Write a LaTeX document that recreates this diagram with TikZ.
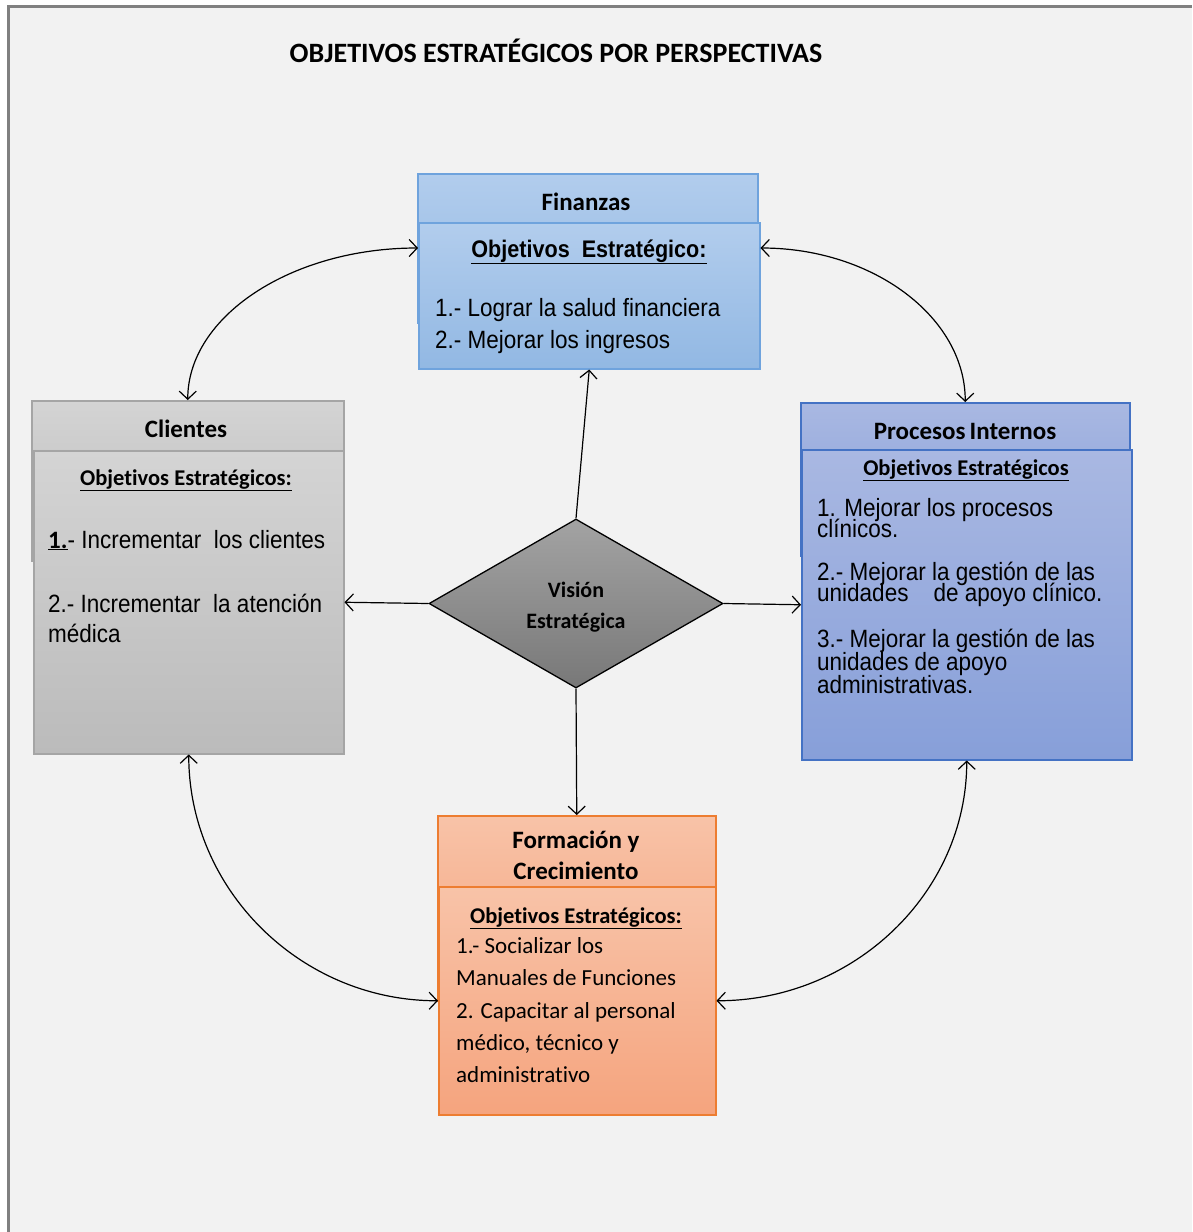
\documentclass[tikz,border=0pt]{standalone}
\usepackage{fontspec}
\setmainfont[Ligatures=CommonOff]{Carlito}
\newfontfamily\nar[FakeStretch=0.9]{Liberation Sans}
\usetikzlibrary{arrows.meta,shapes.geometric,calc}
\definecolor{bgc}{HTML}{F2F2F2}
\definecolor{framec}{HTML}{808080}
\definecolor{finT}{HTML}{B2CDED}
\definecolor{finB}{HTML}{92B8E3}
\definecolor{finD}{HTML}{6FA3DD}
\definecolor{cliT}{HTML}{D4D4D4}
\definecolor{cliB}{HTML}{BBBBBB}
\definecolor{cliD}{HTML}{A5A5A5}
\definecolor{proT}{HTML}{A9B8E2}
\definecolor{proB}{HTML}{879FD9}
\definecolor{proD}{HTML}{4472C4}
\definecolor{forT}{HTML}{F8C3A8}
\definecolor{forB}{HTML}{F5A47E}
\definecolor{forD}{HTML}{ED7D31}
\definecolor{diaT}{HTML}{A3A3A3}
\definecolor{diaB}{HTML}{787878}
\begin{document}
\begin{tikzpicture}[x=1pt,y=-1pt,
  panel/.style={anchor=north west, inner sep=0pt, line width=1.5pt},
  finpanel/.style={panel, draw=finD, top color=finT, bottom color=finB},
  clipanel/.style={panel, draw=cliD, top color=cliT, bottom color=cliB},
  propanel/.style={panel, draw=proD, top color=proT, bottom color=proB},
  forpanel/.style={panel, draw=forD, top color=forT, bottom color=forB},
  head/.style={anchor=base, inner sep=0pt, font=\fontsize{25}{30}\selectfont\bfseries},
  subhead/.style={anchor=base, inner sep=0pt, font=\fontsize{22.5}{27}\selectfont\bfseries},
  nline/.style={anchor=base west, inner sep=0pt, font=\nar\fontsize{25}{30}\selectfont},
  cline/.style={anchor=base west, inner sep=0pt, font=\fontsize{23}{27}\selectfont},
  arr/.style={-{Straight Barb[length=8pt,width=17pt]}, line width=1.2pt},
  darr/.style={{Straight Barb[length=8pt,width=17pt]}-{Straight Barb[length=8pt,width=17pt]}, line width=1.2pt}
]
\useasboundingbox (0,0) rectangle (1192,1232);
\fill[white] (0,0) rectangle (1192,1232);
\fill[bgc] (8,6) rectangle (1192,1232);
\draw[framec, line width=3pt] (8,1232) -- (8,6) -- (1192,6);

% title
\node[anchor=base, inner sep=0pt, font=\fontsize{28}{33}\selectfont\bfseries] (title) at (556,62) {OBJETIVOS ESTRATÉGICOS POR PERSPECTIVAS};

% Finanzas
\node[finpanel, minimum width=340pt, minimum height=149pt] (finH) at (417,173) {};
\node[finpanel, minimum width=341pt, minimum height=146pt] (finBx) at (418,222) {};
\node[head] (finT1) at (586,210) {Finanzas};
\node[anchor=base, inner sep=0pt, font=\nar\fontsize{24}{28}\selectfont\bfseries] (finT2) at (589,257) {\underline{Objetivos\ \ Estratégico:}};
\node[nline] (finL1) at (435,316) {1.- Lograr la salud financiera};
\node[nline] (finL2) at (435,348) {2.- Mejorar los ingresos};

% Clientes
\node[clipanel, minimum width=312pt, minimum height=160pt] (cliH) at (31,400) {};
\node[clipanel, minimum width=310pt, minimum height=303pt] (cliBx) at (33,450) {};
\node[head] (cliT1) at (186,437) {Clientes};
\node[subhead] (cliT2) at (186,485) {\underline{Objetivos Estratégicos:}};
\node[nline] (cliL1) at (48,548) {{\rmfamily\bfseries\underline{1.}}- Incrementar\ \ los clientes};
\node[nline] (cliL2) at (48,612) {2.- Incrementar\ \ la atención};
\node[nline] (cliL3) at (48,642) {médica};

% Procesos Internos
\node[propanel, minimum width=329pt, minimum height=153pt] (proH) at (800,402) {};
\node[propanel, minimum width=330pt, minimum height=310pt] (proBx) at (801,449) {};
\node[head] (proT1) at (965,439) {Procesos\,Internos};
\node[subhead] (proT2) at (966,475) {\underline{Objetivos Estratégicos}};
\node[nline] (proL1) at (817,516) {1. Mejorar los procesos};
\node[nline] (proL2) at (817,537) {clínicos.};
\node[nline] (proL3) at (817,580) {2.- Mejorar la gestión de las};
\node[nline] (proL4) at (817,601) {unidades\ \ \ \ de apoyo clínico.};
\node[nline] (proL5) at (817,647) {3.- Mejorar la gestión de las};
\node[nline] (proL6) at (817,670) {unidades de apoyo};
\node[nline] (proL7) at (817,693) {administrativas.};

% Formacion y Crecimiento
\node[forpanel, minimum width=278pt, minimum height=185pt] (forH) at (437,815) {};
\node[forpanel, minimum width=277pt, minimum height=228pt] (forBx) at (438,886) {};
\node[head] (forT1) at (576,848) {Formación y};
\node[head] (forT2) at (576,879) {Crecimiento};
\node[subhead] (forT3) at (576,923) {\underline{Objetivos Estratégicos:}};
\node[cline] (forL1) at (456,953) {1.- Socializar los};
\node[cline] (forL2) at (456,985) {Manuales de Funciones};
\node[cline] (forL3) at (456,1018) {2. Capacitar al personal};
\node[cline] (forL4) at (456,1050) {médico, técnico y};
\node[cline] (forL5) at (456,1082) {administrativo};

% Vision
\node[diamond, draw=black, line width=1.3pt, top color=diaT, bottom color=diaB, minimum width=294pt, minimum height=169pt, aspect=1.74, inner sep=0pt] (dia) at (576,603.5) {};
\node[anchor=base, inner sep=0pt, font=\fontsize{22}{26}\selectfont\bfseries] (diaT1) at (576,597) {Visión};
\node[anchor=base, inner sep=0pt, font=\fontsize{22}{26}\selectfont\bfseries] (diaT2) at (576,628) {Estratégica};

% straight arrows
\draw[arr] (dia.north) -- (finBx.south);
\draw[arr] (dia.west) -- (cliBx.east);
\draw[arr] (dia.east) -- (proBx.west);
\draw[arr] (dia.south) -- (forH.north);

% curved arrows
\coordinate (fL) at ($(finBx.north west)+(0,26)$);
\coordinate (fR) at ($(finBx.north east)+(0,26)$);
\coordinate (cT) at (cliH.north);
\coordinate (pT) at (proH.north);
\coordinate (cB) at (cliBx.south);
\coordinate (pB) at (proBx.south);
\coordinate (oL) at (forBx.west);
\coordinate (oR) at (forBx.east);
\draw[darr] (fL) .. controls ($(fL)!0.55!(fL-|cT)$) and ($(cT)!0.55!(fL-|cT)$) .. (cT);
\draw[darr] (fR) .. controls ($(fR)!0.55!(fR-|pT)$) and ($(pT)!0.55!(fR-|pT)$) .. (pT);
\draw[darr] (cB) .. controls ($(cB)!0.55!(cB|-oL)$) and ($(oL)!0.55!(cB|-oL)$) .. (oL);
\draw[darr] (pB) .. controls ($(pB)!0.55!(pB|-oR)$) and ($(oR)!0.55!(pB|-oR)$) .. (oR);
\end{tikzpicture}
\end{document}
